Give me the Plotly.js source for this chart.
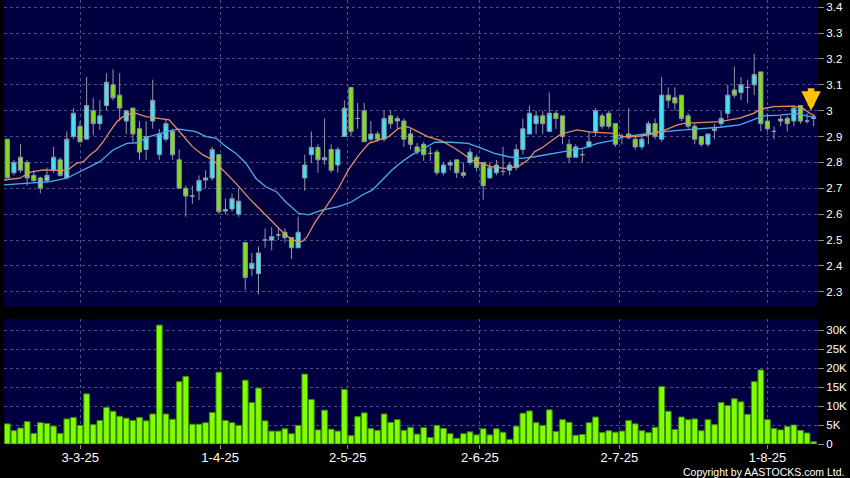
<!DOCTYPE html>
<html>
<head>
<meta charset="utf-8">
<script src="https://cdn.plot.ly/plotly-3.0.1.min.js"></script>
<style>
html,body{margin:0;padding:0;background:#000;}
#chart{width:850px;height:478px;}
</style>
</head>
<body>
<div id="chart"></div>
<script>
// Daily candles, oldest first
const openP = [2.89,2.76,2.82,2.80,2.75,2.74,2.73,2.77,2.81,2.74,
  2.90,2.94,2.89,3.00,2.95,3.02,3.10,3.06,2.96,3.01,
  2.93,2.85,2.96,2.83,2.89,2.92,2.81,2.70,2.67,2.69,
  2.732,2.74,2.83,2.612,2.62,2.60,2.49,2.39,2.37,2.50,
  2.50,2.52,2.53,2.51,2.47,2.74,2.83,2.858,2.81,2.85,
  2.79,2.90,3.09,2.97,3.00,2.89,2.91,2.89,2.98,2.97,
  2.96,2.91,2.86,2.87,2.835,2.84,2.76,2.79,2.81,2.76,
  2.80,2.82,2.80,2.74,2.76,2.765,2.77,2.78,2.85,2.91,
  2.95,2.98,2.92,2.99,2.98,2.87,2.82,2.83,2.86,2.92,
  2.98,2.99,2.95,2.90,2.91,2.89,2.86,2.91,2.95,2.89,
  3.06,3.05,3.06,2.98,2.94,2.90,2.87,2.923,2.95,2.99,
  3.08,3.07,3.09,3.10,3.15,2.96,2.92,2.96,2.97,2.96,
  3.02,2.96,2.97];
const highP = [2.89,2.81,2.87,2.81,2.77,2.745,2.78,2.86,2.82,2.92,
  3.01,2.96,3.13,3.05,3.04,3.145,3.16,3.145,3.00,3.01,
  2.96,2.96,3.12,2.93,2.965,2.93,2.85,2.71,2.71,2.75,
  2.77,2.86,2.83,2.66,2.68,2.70,2.49,2.45,2.475,2.545,
  2.55,2.545,2.545,2.51,2.59,2.83,2.92,2.87,2.97,2.87,
  2.86,3.04,3.09,3.03,3.03,2.96,2.92,3.00,3.00,2.98,
  2.97,2.93,2.875,2.88,2.86,2.85,2.80,2.81,2.81,2.80,
  2.855,2.83,2.80,2.80,2.81,2.86,2.80,2.87,2.97,3.02,
  3.00,3.00,3.07,3.00,2.98,2.89,2.87,2.85,2.92,3.01,
  2.99,3.00,2.95,2.91,3.01,2.90,2.90,2.96,2.97,3.13,
  3.09,3.09,3.06,2.99,2.95,2.90,2.91,2.95,3.00,3.10,
  3.17,3.13,3.12,3.22,3.15,2.99,2.94,2.98,2.98,3.02,
  3.02,2.99,2.975];
const lowP = [2.74,2.75,2.76,2.71,2.72,2.68,2.72,2.76,2.745,2.74,
  2.89,2.875,2.89,2.905,2.925,3.00,3.04,2.96,2.91,2.88,
  2.81,2.81,2.93,2.81,2.88,2.81,2.70,2.59,2.64,2.655,
  2.70,2.73,2.60,2.60,2.61,2.59,2.307,2.36,2.29,2.47,
  2.46,2.50,2.49,2.427,2.47,2.69,2.80,2.76,2.79,2.76,
  2.76,2.90,2.90,2.93,2.88,2.88,2.88,2.88,2.93,2.93,
  2.86,2.85,2.83,2.806,2.806,2.75,2.75,2.77,2.74,2.74,
  2.79,2.765,2.656,2.74,2.75,2.75,2.75,2.77,2.83,2.91,
  2.91,2.91,2.92,2.93,2.87,2.80,2.82,2.80,2.86,2.90,
  2.93,2.93,2.86,2.87,2.89,2.85,2.85,2.87,2.89,2.88,
  3.01,3.00,2.96,2.93,2.87,2.86,2.86,2.89,2.94,2.97,
  3.05,3.04,3.03,3.06,2.92,2.92,2.89,2.94,2.92,2.94,
  2.95,2.95,2.94];
const closeP = [2.74,2.80,2.77,2.74,2.73,2.70,2.75,2.82,2.75,2.89,
  2.99,2.88,3.02,2.95,2.98,3.11,3.05,3.01,3.00,2.91,
  2.84,2.90,3.04,2.91,2.95,2.83,2.70,2.67,2.67,2.73,
  2.74,2.85,2.61,2.618,2.66,2.65,2.355,2.41,2.45,2.50,
  2.513,2.52,2.51,2.47,2.53,2.79,2.858,2.81,2.818,2.77,
  2.85,3.01,2.92,2.97,2.88,2.91,2.89,2.97,2.95,2.96,
  2.89,2.87,2.84,2.83,2.835,2.76,2.79,2.80,2.76,2.75,
  2.84,2.78,2.71,2.78,2.79,2.765,2.79,2.85,2.93,2.99,
  2.98,2.95,2.99,2.97,2.90,2.82,2.86,2.83,2.88,3.00,
  2.94,2.94,2.87,2.90,2.895,2.86,2.89,2.95,2.90,3.06,
  3.04,3.03,2.97,2.94,2.89,2.87,2.91,2.93,2.97,3.06,
  3.06,3.10,3.09,3.14,2.95,2.93,2.92,2.968,2.95,3.01,
  2.96,2.96,2.975];
// Volume in thousands of shares
const volumeK = [5.3,3.5,4.2,5.9,2.8,5.6,5.4,4.7,2.8,6.6,
  7.0,4.9,13.2,5.1,6.2,9.6,8.6,7.3,6.8,6.2,
  7.0,6.1,7.9,31.3,7.9,6.5,16.4,17.8,5.2,5.2,
  5.6,8.3,18.9,6.2,5.6,4.9,16.8,10.9,14.7,6.1,
  3.4,3.4,4.0,2.7,4.9,18.4,11.7,3.7,8.9,3.9,
  3.4,14.4,2.2,7.2,8.2,4.1,3.6,7.9,5.7,6.4,
  3.6,4.4,2.6,4.3,1.7,4.9,4.1,2.7,1.5,2.7,
  3.2,2.4,4.0,2.4,4.0,3.1,1.2,4.7,8.1,8.7,
  5.6,4.9,9.0,3.3,6.4,5.7,2.3,2.5,5.6,7.1,
  3.0,3.5,3.1,3.4,6.2,5.3,3.5,3.0,4.4,15.1,
  8.6,3.8,7.1,6.4,6.6,3.5,6.4,5.1,10.9,10.1,
  11.9,11.1,7.8,16.4,19.5,6.4,4.1,3.7,4.6,5.0,
  3.6,2.9,0.6];
// Moving averages (x = trading-day position)
const ma10X = [-0.5,1.9,3.4,5.4,9.0,10.5,11.5,12.5,13.5,14.5,15.5,16.6,17.5,18.8,19.5,21.0,24.5,25.0,26.5,28.0,29.6,31.1,32.6,34.6,36.6,38.6,40.7,41.6,43.1,44.6,45.3,46.6,48.1,50.1,51.6,53.2,54.7,56.2,57.7,59.2,60.6,62.1,63.6,65.7,67.7,69.2,70.2,71.7,73.2,75.2,77.3,78.8,79.8,80.8,82.2,83.7,86.2,88.3,91.3,93.3,95.3,96.8,98.9,101.4,102.4,104.8,107.8,110.8,112.9,113.9,115.9,118.9,120.4,121.4,122.2];
const ma10 = [2.732,2.739,2.762,2.771,2.768,2.797,2.803,2.829,2.848,2.88,2.919,2.958,2.977,2.99,2.99,2.977,2.965,2.951,2.906,2.861,2.829,2.81,2.771,2.719,2.661,2.61,2.558,2.532,2.50,2.494,2.51,2.571,2.623,2.70,2.771,2.829,2.874,2.887,2.90,2.932,2.938,2.919,2.90,2.883,2.855,2.829,2.81,2.797,2.784,2.777,2.784,2.81,2.842,2.855,2.88,2.909,2.926,2.917,2.913,2.90,2.90,2.906,2.919,2.945,2.951,2.954,2.958,2.971,2.99,3.005,3.016,3.018,3.009,2.99,2.98];
const ma20X = [-0.5,6.5,9.0,11.0,14.0,16.0,18.1,19.6,21.5,24.5,26.0,28.5,30.1,31.6,33.1,34.6,36.1,37.6,39.1,40.7,42.1,44.1,45.6,47.6,50.1,52.1,53.7,55.2,56.7,58.2,59.7,61.2,62.6,64.7,67.1,69.7,71.7,73.7,75.8,77.8,79.8,81.8,84.2,87.2,89.3,91.3,93.3,96.3,99.3,102.4,107.8,110.8,112.9,114.4,116.9,119.4,120.9,122.3];
const ma20 = [2.713,2.726,2.739,2.764,2.803,2.848,2.874,2.876,2.90,2.922,2.929,2.919,2.90,2.893,2.861,2.835,2.797,2.739,2.706,2.687,2.648,2.603,2.597,2.616,2.629,2.648,2.674,2.693,2.732,2.771,2.803,2.829,2.848,2.878,2.878,2.874,2.855,2.835,2.822,2.816,2.822,2.832,2.842,2.855,2.874,2.883,2.90,2.909,2.919,2.926,2.936,2.945,2.964,2.98,2.983,2.99,2.98,2.975];
// Date tick labels and their positions on the trading-day scale
const tickLabels = ['3-3-25','1-4-25','2-5-25','2-6-25','2-7-25','1-8-25'];
const tickPos = [11.04,32.2,51.5,71.5,92.6,115.0];
const volTickVals = [0,5,10,15,20,25,30];
const volTickText = ['0','5K','10K','15K','20K','25K','30K'];

const idx = closeP.map((_, i) => i);

const gridCol = '#4f4f86';
const font = 'Liberation Sans, Arial, sans-serif';

const traces = [
  {
    type: 'candlestick', x: idx, open: openP, high: highP, low: lowP, close: closeP,
    xaxis: 'x', yaxis: 'y', whiskerwidth: 0, hoverinfo: 'skip', showlegend: false,
    increasing: {fillcolor: '#3ee4f6', line: {color: '#8e9aa4', width: 1}},
    decreasing: {fillcolor: '#7fe014', line: {color: '#8e9aa4', width: 1}}
  },
  {
    type: 'scatter', mode: 'lines', x: ma20X, y: ma20, xaxis: 'x', yaxis: 'y',
    line: {color: '#4aaeea', width: 1.3}, hoverinfo: 'skip', showlegend: false
  },
  {
    type: 'scatter', mode: 'lines', x: ma10X, y: ma10, xaxis: 'x', yaxis: 'y',
    line: {color: '#e0905c', width: 1.3}, hoverinfo: 'skip', showlegend: false
  },
  {
    type: 'bar', x: idx, y: volumeK, xaxis: 'x', yaxis: 'y2', width: 0.86,
    marker: {color: '#80ff00', line: {color: '#3f8a00', width: 1}},
    hoverinfo: 'skip', showlegend: false
  }
];

const layout = {
  width: 850, height: 478,
  paper_bgcolor: '#000000', plot_bgcolor: '#000040',
  margin: {l: 4, r: 33, t: 0, b: 34, pad: 0},
  boxgap: 0.1,
  showlegend: false,
  font: {family: font, color: '#ffffff'},
  xaxis: {
    range: [-0.5, 122.5], anchor: 'y2', tickmode: 'array',
    tickvals: tickPos, ticktext: tickLabels,
    showgrid: true, gridcolor: gridCol, griddash: '3px,3px', gridwidth: 1,
    zeroline: false, showline: false,
    ticks: 'outside', ticklen: 4, tickcolor: '#8a8a8a', ticklabelstandoff: -3,
    tickfont: {family: font, size: 13, color: '#ffffff'},
    rangeslider: {visible: false}, fixedrange: true
  },
  yaxis: {
    domain: [0.3097, 1], range: [2.243, 3.428], side: 'right',
    tickmode: 'linear', tick0: 2.3, dtick: 0.1,
    showgrid: true, gridcolor: gridCol, griddash: '3px,3px', gridwidth: 1,
    zeroline: false, showline: false,
    ticks: 'outside', ticklen: 6, tickcolor: '#8a8a8a',
    tickfont: {family: font, size: 11.5, color: '#ffffff'}, fixedrange: true
  },
  yaxis2: {
    domain: [0, 0.2815], range: [0, 32.9], side: 'right',
    tickmode: 'array', tickvals: volTickVals, ticktext: volTickText,
    showgrid: true, gridcolor: gridCol, griddash: '3px,3px', gridwidth: 1,
    zeroline: false, showline: false,
    ticks: 'outside', ticklen: 6, tickcolor: '#8a8a8a',
    tickfont: {family: font, size: 11.5, color: '#ffffff'}, fixedrange: true
  },
  annotations: [
    {
      x: 121.6, y: 3.0, xref: 'x', yref: 'y', ax: 0, ay: -24,
      showarrow: true, arrowhead: 2, arrowsize: 0.6, arrowwidth: 6.5,
      arrowcolor: '#ffc20a', standoff: 0, text: ''
    },
    {
      text: 'Copyright by AASTOCKS.com Ltd.', xref: 'paper', yref: 'paper',
      x: 1.0357, y: -0.0625, xanchor: 'right', yanchor: 'middle', showarrow: false,
      font: {family: font, size: 10.5, color: '#ffffff'}
    }
  ]
};

Plotly.newPlot('chart', traces, layout, {staticPlot: true, displayModeBar: false});
</script>
</body>
</html>
